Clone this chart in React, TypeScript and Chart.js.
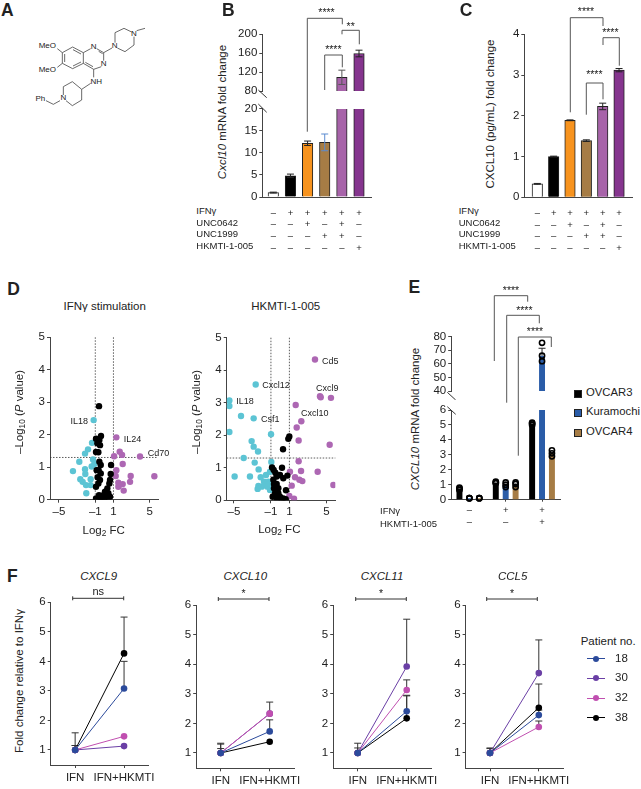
import React, { useEffect, useRef } from 'react';
import { Chart, registerables } from 'chart.js';
Chart.register(...registerables);

const FONT = '"Liberation Sans", Arial, sans-serif';
const INK = '#222222';
const AXIS = '#444444';
const GREY = '#555555';

// ---------- Panel B / C data ----------
const treatmentColors = ['#ffffff', '#000000', '#f7931e', '#a67c45', '#a763a9', '#85358e'];
const treatmentRows = [
  ['–', '+', '+', '+', '+', '+'],
  ['–', '–', '+', '–', '+', '–'],
  ['–', '–', '–', '+', '+', '–'],
  ['–', '–', '–', '–', '–', '+'],
];
const treatmentNames = ['IFNγ', 'UNC0642', 'UNC1999', 'HKMTI-1-005'];
const cxcl10Mrna = [1, 4.8, 12.2, 12.4, 109, 159];
const cxcl10MrnaErr = [0.1, 0.4, 0.5, 1.9, 15, 7];
const cxcl10MrnaErrColors = ['#222222', '#222222', '#222222', '#5b8bd0', '#555555', '#222222'];
const cxcl10Protein = [0.33, 1.0, 1.89, 1.39, 2.23, 3.12];
const cxcl10ProteinErr = [0.01, 0.01, 0.01, 0.02, 0.08, 0.04];

// ---------- Panel D data: [log2FC, -log10 P] ----------
const ifnCyan = [[-1.18,2.45],[-1.36,1.75],[-1.8,1.55],[-2.13,1.42],[-2.76,1.17],[-3.46,0.88],[-2.13,0.94],[-2.1,0.79],[-2.65,0.63],[-1.51,0.63],[-2.39,0.55],[-2.02,0.45],[-1.51,0.45],[-1.99,0.2],[-1.25,1.24],[-1.4,1.02],[-1.1,1.1]];
const ifnBlack = [[-0.59,2.88],[-0.37,1.96],[-0.92,1.88],[-0.55,1.84],[-0.48,1.68],[-0.77,1.74],[-0.92,1.47],[-0.66,1.46],[-0.55,1.17],[-0.4,1.07],[-0.63,0.91],[-0.85,0.91],[-0.4,0.81],[-0.74,0.69],[-0.48,0.61],[-0.66,0.5],[-0.92,0.4],[0.74,1.07],[0.7,0.79],[0.62,0.61],[0.55,0.5],[0.33,0.35],[0.07,0.25],[-0.11,0.14],[-0.48,0.09],[-0.92,0.04],[0.44,0.2],[0.26,0.09],[0,0.04],[0.62,0.09],[-0.29,0.04],[-0.59,0.14]];
const ifnPurple = [[1.32,1.92],[1.07,1.34],[1.69,1.48],[1.95,1.38],[3.93,1.33],[2.02,1.1],[1.32,0.91],[1.25,0.73],[2.9,0.73],[5.51,0.72],[2.83,0.55],[1.54,0.52],[2.02,0.48],[1.54,0.4],[2.13,0.28],[1.65,0.45]];
const hkmtiCyan = [[-2.65,3.56],[-5.5,3.07],[-5.5,2.9],[-4.24,2.59],[-2.87,2.52],[-5.5,2.1],[-0.99,2.03],[-3.09,1.82],[-2.87,1.65],[-2.4,1.5],[-3.95,1.3],[-2.76,1.16],[-0.96,1.18],[-2.33,0.95],[-4.93,0.73],[-3.27,0.73],[-2.11,0.71],[-1.53,0.78],[-1.1,0.88],[-1.75,0.57],[-1.28,0.57],[-2.36,0.44],[-2,0.42],[-1.64,0.47],[-2.44,0.35],[-1.1,0.32],[-1.39,0.42],[-1.17,0.5]];
const hkmtiBlack = [[0.99,1.96],[0.88,1.89],[0.31,1.57],[0.2,1.0],[-0.88,1.01],[-0.7,0.93],[-0.52,0.85],[-0.38,0.73],[-0.02,0.78],[0.34,0.68],[0.78,0.76],[-0.67,0.5],[-0.38,0.5],[-0.67,0.37],[-0.2,0.37],[0.63,0.31],[-0.81,0.11],[-0.45,0.11],[-0.02,0.11],[0.34,0.06],[-0.31,0.03],[0.6,0.03],[0.16,0.03],[-0.56,0.22],[-0.2,0.22],[-0.74,0.63]];
const hkmtiPurple = [[3.77,4.33],[4.31,3.2],[4.39,3.17],[5.5,3.15],[1.68,2.93],[2.29,2.43],[1.79,2.24],[2,1.84],[5.36,1.71],[2,1.2],[1.06,0.88],[2.26,0.9],[4.06,0.88],[1.61,0.71],[2.08,0.63],[2.4,0.59],[5.76,0.47],[1.25,0.45],[0.99,0.13],[1.5,0.05]];

// ---------- Panel E data ----------
const cellLines = ['OVCAR3', 'Kuramochi', 'OVCAR4'];
const cellColors = ['#000000', '#2a5ca8', '#a67c45'];
const eGroups = ['control', 'IFNγ', 'IFNγ + HKMTI-1-005'];
const eRows = [['–', '+', '+'], ['–', '–', '+']];
const eRowNames = ['IFNγ', 'HKMTI-1-005'];
const ovcar3Mean = [0.75, 1.15, 5.1];
const kuramochiMean = [0.1, 1.0, 66];
const ovcar4Mean = [0.1, 1.05, 3.1];
const kuramochiErr = [0, 0, 5.5];
const ovcar3Dots = [[0.65, 0.75, 0.8], [1.1, 1.15, 1.2], [5.0, 5.1, 5.15]];
const kuramochiDots = [[0.1, 0.1, 0.1], [0.85, 1.0, 1.15], [62, 66, 75.5]];
const ovcar4Dots = [[0.1, 0.1, 0.1], [0.85, 1.05, 1.15], [2.9, 3.1, 3.3]];

// ---------- Panel F data (rows: patients 18, 30, 32, 38) ----------
const patients = ['18', '30', '32', '38'];
const patientColors = ['#2b4a9b', '#6a3fa5', '#c04fb0', '#000000'];
const patientOrder = [0, 2, 1, 3];
const fCategories = ['IFN', 'IFN+HKMTI'];
const cxcl9Values = [[1, 3.08], [1, 1.13], [1, 1.46], [1, 4.27]];
const cxcl9Upper = [[1.15, 4.0], [null, null], [1.58, null], [1.15, 5.5]];
const cxcl10Values = [[1, 1.73], [1, 2.33], [1, 2.33], [1, 1.38]];
const cxcl10Upper = [[1.15, 2.12], [null, null], [1.33, 2.72], [1.3, null]];
const cxcl11Values = [[1, 2.41], [1, 3.92], [1, 3.13], [1, 2.17]];
const cxcl11Upper = [[1.17, 2.93], [1.33, 5.52], [null, 3.47], [null, 2.95]];
const ccl5Values = [[1, 2.28], [1, 3.7], [1, 1.88], [1, 2.53]];
const ccl5Upper = [[1.17, 2.45], [1.15, 4.82], [null, 2.08], [null, 3.33]];

// ---------- helpers ----------
const tickFont = { family: FONT, size: 11.5 };
const dashify = (v: any) => String(v).replace('-', '–');

const yAxis = (min: number, max: number, ticks: number[]) => ({
  type: 'linear', min, max,
  afterBuildTicks: (s: any) => { s.ticks = ticks.map((value) => ({ value })); },
  border: { color: AXIS, width: 1 },
  grid: { drawOnChartArea: false, color: AXIS, tickLength: 3 },
  ticks: { font: tickFont, color: INK, padding: 2, autoSkip: false, callback: dashify },
});

const rowTickFont = { family: FONT, size: 9.5, lineHeight: 11.8 / 9.5 };

const linearBarX = (min: number, max: number, hidden: boolean, rows: string[][]) => ({
  type: 'linear', min, max, offset: false, display: !hidden,
  afterBuildTicks: (s: any) => { s.ticks = rows[0].map((_, i) => ({ value: i + 1 })); },
  border: { color: AXIS, width: 1 },
  grid: { display: false, offset: false },
  ticks: {
    font: rowTickFont, color: INK, padding: 2, autoSkip: false, maxRotation: 0,
    callback: (v: number) => rows.map((r) => r[Math.round(v) - 1]),
  },
});

function lines(ctx: any, pts: number[][], color = GREY, width = 1) {
  ctx.save();
  ctx.strokeStyle = color;
  ctx.lineWidth = width;
  ctx.beginPath();
  pts.forEach(([x, y], i) => (i ? ctx.lineTo(x, y) : ctx.moveTo(x, y)));
  ctx.stroke();
  ctx.restore();
}

function starText(ctx: any, text: string, x: number, y: number, size = 10.5) {
  ctx.save();
  ctx.font = `${size}px ${FONT}`;
  ctx.fillStyle = INK;
  ctx.textAlign = 'center';
  ctx.textBaseline = 'middle';
  ctx.fillText(text, x, y);
  ctx.restore();
}

type Bracket = { x0: number; x1: number; top: number; b0: number; b1: number; label: string; lx: number; ly: number };
function drawBracket(ctx: any, b: Bracket) {
  lines(ctx, [[b.x0, b.b0], [b.x0, b.top], [b.x1, b.top], [b.x1, b.b1]]);
  starText(ctx, b.label, b.lx, b.ly);
}

function clipArea(chart: any, fn: () => void) {
  const { ctx, chartArea: a } = chart;
  ctx.save();
  ctx.beginPath();
  ctx.rect(a.left - 8, a.top - 1, a.right - a.left + 16, a.bottom - a.top + 2);
  ctx.clip();
  fn();
  ctx.restore();
}

function barErrors(chart: any, datasetIndex: number, means: number[], errs: number[], colors: string[] | string, both = true) {
  const y = chart.scales.y;
  const meta = chart.getDatasetMeta(datasetIndex);
  clipArea(chart, () => {
    means.forEach((m, i) => {
      if (!errs[i] || m + errs[i] < y.min || m - errs[i] > y.max) return;
      const x = meta.data[i].x;
      const c = typeof colors === 'string' ? colors : colors[i];
      const hi = y.getPixelForValue(m + errs[i]);
      const lo = y.getPixelForValue(both ? m - errs[i] : m);
      lines(chart.ctx, [[x, lo], [x, hi]], c);
      lines(chart.ctx, [[x - 3.5, hi], [x + 3.5, hi]], c);
      if (both) lines(chart.ctx, [[x - 3.5, lo], [x + 3.5, lo]], c);
    });
  });
}

function replicateDots(chart: any, datasetIndex: number, dots: number[][]) {
  const y = chart.scales.y;
  const meta = chart.getDatasetMeta(datasetIndex);
  const { ctx, chartArea: a } = chart;
  ctx.save();
  ctx.beginPath();
  ctx.rect(a.left, a.top - 6, a.right - a.left, a.bottom - a.top + 10);
  ctx.clip();
  dots.forEach((group, i) => group.forEach((v) => {
    if (v > y.max || v < y.min) return;
    ctx.beginPath();
    ctx.arc(meta.data[i].x, y.getPixelForValue(v), 2.6, 0, Math.PI * 2);
    ctx.strokeStyle = '#000';
    ctx.lineWidth = 1.6;
    ctx.stroke();
  }));
  ctx.restore();
}

type Rect = { left: number; top: number; right: number; bottom: number };
type Spec = { box: Rect; plot: Rect; config: any; under?: (c: any) => void; over?: (c: any) => void };

const barData = (values: number[]) => values.map((y, i) => ({ x: i + 1, y }));
const barDataset = (values: number[]) => ({
  data: barData(values), backgroundColor: treatmentColors, borderColor: '#222222', borderWidth: 1, barThickness: 10.5,
});

const bBrackets: Bracket[] = [
  { x0: 307.3, x1: 342.3, top: 18.3, b0: 131.7, b1: 24.3, label: '****', lx: 326.5, ly: 13 },
  { x0: 342, x1: 359.3, top: 30.3, b0: 34.3, b1: 44.3, label: '**', lx: 350.7, ly: 27.5 },
  { x0: 324.7, x1: 342.3, top: 55, b0: 90, b1: 67.3, label: '****', lx: 333.3, ly: 50 },
];
const cBrackets: Bracket[] = [
  { x0: 570.3, x1: 603, top: 17.7, b0: 112.3, b1: 26, label: '****', lx: 586, ly: 12 },
  { x0: 603, x1: 619.3, top: 37.7, b0: 45, b1: 65.7, label: '****', lx: 610.3, ly: 33 },
  { x0: 586.3, x1: 603, top: 83, b0: 114.7, b1: 99.3, label: '****', lx: 594.3, ly: 75 },
];
const eBrackets: Bracket[] = [
  { x0: 494.3, x1: 527.7, top: 295.7, b0: 361, b1: 301.7, label: '****', lx: 511, ly: 291 },
  { x0: 506.7, x1: 539.3, top: 315.3, b0: 402.7, b1: 323.3, label: '****', lx: 524.3, ly: 311 },
  { x0: 518.3, x1: 551.3, top: 337, b0: 455.7, b1: 347, label: '****', lx: 535, ly: 332 },
];

const bLowerPlot = { left: 262.3, top: 108.3, right: 371, bottom: 197 };
const bUpperPlot = { left: 262.3, top: 34, right: 371, bottom: 94 };
const bXMin = 0.358;
const bXMax = 6.7;
const cPlot = { left: 524.3, top: 34.3, right: 632.3, bottom: 197.3 };

const volcanoX = (min: number, max: number) => ({
  type: 'linear', min, max,
  afterBuildTicks: (s: any) => { s.ticks = [-5, -1, 1, 5].map((value) => ({ value })); },
  border: { color: AXIS, width: 1 },
  grid: { drawOnChartArea: false, color: AXIS, tickLength: 3 },
  ticks: { font: tickFont, color: INK, padding: 2, autoSkip: false, maxRotation: 0, callback: dashify },
});
const toPoints = (rows: number[][]) => rows.map(([x, y]) => ({ x, y }));
const volcanoSet = (rows: number[][], color: string) => ({
  data: toPoints(rows), backgroundColor: color, borderColor: color, pointRadius: 3.2, borderWidth: 0,
});
const thresholds = (chart: any) => {
  const { ctx, scales: { x, y }, chartArea: a } = chart;
  ctx.save();
  ctx.setLineDash([1.5, 1.5]);
  ctx.strokeStyle = '#333';
  ctx.lineWidth = 0.8;
  [-1, 1].forEach((v) => {
    ctx.beginPath();
    ctx.moveTo(x.getPixelForValue(v), a.top);
    ctx.lineTo(x.getPixelForValue(v), a.bottom);
    ctx.stroke();
  });
  ctx.beginPath();
  ctx.moveTo(a.left, y.getPixelForValue(1.3));
  ctx.lineTo(a.right, y.getPixelForValue(1.3));
  ctx.stroke();
  ctx.restore();
};
const volcano = (box: Rect, plot: Rect, xMin: number, xMax: number, c: number[][], b: number[][], p: number[][]): Spec => ({
  box, plot, under: thresholds,
  config: {
    type: 'scatter',
    data: { datasets: [volcanoSet(b, '#000000'), volcanoSet(p, '#ad67b3'), volcanoSet(c, '#5cc4d4')] },
    options: { scales: { x: volcanoX(xMin, xMax), y: yAxis(0, 5, [0, 1, 2, 3, 4, 5]) } },
  },
});

const eDatasets = () => [ovcar3Mean, kuramochiMean, ovcar4Mean].map((data, i) => ({
  label: cellLines[i], data, backgroundColor: cellColors[i], borderWidth: 0,
  categoryPercentage: 0.818, barPercentage: 0.6,
}));
const eDots = (chart: any) => [ovcar3Dots, kuramochiDots, ovcar4Dots].forEach((d, i) => replicateDots(chart, i, d));
const eCategoryX = (hidden: boolean) => ({
  type: 'category', display: !hidden,
  border: { color: AXIS, width: 1 },
  grid: { drawOnChartArea: false, color: AXIS, tickLength: 2, offset: false },
  ticks: {
    font: rowTickFont, color: INK, padding: 3, autoSkip: false, maxRotation: 0,
    callback: (_: any, i: number) => eRows.map((r) => r[i]),
  },
});
const eLowerPlot = { left: 451.2, top: 410, right: 560.2, bottom: 499.7 };
const eUpperPlot = { left: 451.2, top: 336.7, right: 560.2, bottom: 395.7 };

const trend = (box: Rect, plot: Rect, yMin: number, values: number[][], upper: (number | null)[][], bracket: number[], label: string): Spec => ({
  box, plot,
  under: (chart: any) => {
    const { ctx, scales: { x, y } } = chart;
    upper.forEach((row, r) => row.forEach((v, i) => {
      if (v == null) return;
      const px = x.getPixelForValue(i);
      const hi = y.getPixelForValue(v);
      lines(ctx, [[px, y.getPixelForValue(values[r][i])], [px, hi]], '#333');
      lines(ctx, [[px - 3.5, hi], [px + 3.5, hi]], '#333');
    }));
  },
  over: (chart: any) => {
    const ctx = chart.ctx;
    const [x0, x1, yy] = bracket;
    lines(ctx, [[x0, yy], [x1, yy]], '#333');
    lines(ctx, [[x0, yy - 2], [x0, yy + 2]], '#333');
    lines(ctx, [[x1, yy - 2], [x1, yy + 2]], '#333');
    starText(ctx, label, (x0 + x1) / 2, yy - (label === 'ns' ? 6.5 : 4.5), label === 'ns' ? 11 : 10.5);
  },
  config: {
    type: 'line',
    data: {
      labels: fCategories,
      datasets: values.map((data, i) => ({
        label: patients[i], data, order: patientOrder[i], borderColor: patientColors[i], backgroundColor: patientColors[i],
        borderWidth: 1, pointRadius: 3.3, pointBorderWidth: 0, tension: 0,
      })),
    },
    options: {
      scales: {
        x: {
          type: 'category', offset: true,
          border: { color: AXIS, width: 1 },
          grid: { drawOnChartArea: false, color: AXIS, tickLength: 3, offset: false },
          ticks: { font: tickFont, color: INK, padding: 3, autoSkip: false, maxRotation: 0 },
        },
        y: yAxis(yMin, 6, [1, 2, 3, 4, 5, 6]),
      },
    },
  },
});

const specs: Spec[] = [
  {
    box: { left: 232, top: 0, right: 385, bottom: 100 }, plot: bUpperPlot,
    config: {
      type: 'bar',
      data: { datasets: [barDataset(cxcl10Mrna)] },
      options: { scales: { x: linearBarX(bXMin, bXMax, true, treatmentRows), y: yAxis(80, 200, [80, 120, 160, 200]) } },
    },
    over: (chart) => {
      barErrors(chart, 0, cxcl10Mrna, cxcl10MrnaErr, cxcl10MrnaErrColors);
      bBrackets.forEach((b) => drawBracket(chart.ctx, b));
      lines(chart.ctx, [[258.3, 90], [266.7, 97.7]], '#333');
    },
  },
  {
    box: { left: 232, top: 100, right: 385, bottom: 256 }, plot: bLowerPlot,
    config: {
      type: 'bar',
      data: { datasets: [barDataset(cxcl10Mrna)] },
      options: { scales: { x: linearBarX(bXMin, bXMax, false, treatmentRows), y: yAxis(0, 20, [0, 5, 10, 15, 20]) } },
    },
    over: (chart) => {
      barErrors(chart, 0, cxcl10Mrna, cxcl10MrnaErr, cxcl10MrnaErrColors);
      lines(chart.ctx, [[258.3, 104], [266.7, 112.3]], '#333');
      lines(chart.ctx, [[307.3, 131.7], [307.3, 100]]);
    },
  },
  {
    box: { left: 500, top: 0, right: 641, bottom: 256 }, plot: cPlot,
    config: {
      type: 'bar',
      data: { datasets: [barDataset(cxcl10Protein)] },
      options: { scales: { x: linearBarX(0.205, 6.81, false, treatmentRows), y: yAxis(0, 4, [0, 1, 2, 3, 4]) } },
    },
    over: (chart) => {
      barErrors(chart, 0, cxcl10Protein, cxcl10ProteinErr, '#222222');
      cBrackets.forEach((b) => drawBracket(chart.ctx, b));
    },
  },
  volcano({ left: 28, top: 325, right: 170, bottom: 525 }, { left: 50, top: 337.3, right: 158, bottom: 499.7 }, -5.99, 5.91, ifnCyan, ifnBlack, ifnPurple),
  volcano({ left: 205, top: 325, right: 345, bottom: 525 }, { left: 226.7, top: 337.7, right: 335.3, bottom: 500.3 }, -5.79, 5.97, hkmtiCyan, hkmtiBlack, hkmtiPurple),
  {
    box: { left: 425, top: 285, right: 570, bottom: 400 }, plot: eUpperPlot,
    config: {
      type: 'bar',
      data: { labels: eGroups, datasets: eDatasets() },
      options: { scales: { x: eCategoryX(true), y: yAxis(40, 80, [40, 50, 60, 70, 80]) } },
    },
    over: (chart) => {
      barErrors(chart, 1, kuramochiMean, kuramochiErr, '#222222', false);
      eDots(chart);
      eBrackets.forEach((b) => drawBracket(chart.ctx, b));
      lines(chart.ctx, [[447.3, 392.3], [455.7, 400]], '#333');
    },
  },
  {
    box: { left: 425, top: 400, right: 570, bottom: 532 }, plot: eLowerPlot,
    config: {
      type: 'bar',
      data: { labels: eGroups, datasets: eDatasets() },
      options: { scales: { x: eCategoryX(false), y: yAxis(0, 6, [0, 1, 2, 3, 4, 5, 6]) } },
    },
    over: (chart) => {
      eDots(chart);
      lines(chart.ctx, [[447.3, 406.7], [455.7, 414.3]], '#333');
      lines(chart.ctx, [[506.7, 400], [506.7, 402.7]]);
      lines(chart.ctx, [[518.3, 400], [518.3, 455.7]]);
    },
  },
  trend({ left: 30, top: 588, right: 170, bottom: 789 }, { left: 50.7, top: 602.3, right: 148.5, bottom: 765 }, 0.49, cxcl9Values, cxcl9Upper, [72.7, 123.7, 598.3], 'ns'),
  trend({ left: 176, top: 588, right: 312, bottom: 789 }, { left: 196.2, top: 605, right: 294.2, bottom: 768.3 }, 0.483, cxcl10Values, cxcl10Upper, [218.3, 269, 599], '*'),
  trend({ left: 313, top: 588, right: 452, bottom: 789 }, { left: 333.2, top: 605, right: 431.2, bottom: 768.3 }, 0.483, cxcl11Values, cxcl11Upper, [355.7, 406.3, 599], '*'),
  trend({ left: 445, top: 588, right: 580, bottom: 789 }, { left: 465.6, top: 605, right: 563.2, bottom: 768.3 }, 0.483, ccl5Values, ccl5Upper, [486.7, 537.3, 599], '*'),
];

function PanelCanvas({ spec }: { spec: Spec }) {
  const ref = useRef<HTMLCanvasElement>(null);
  useEffect(() => {
    const { box, plot, config, under, over } = spec;
    const scales = config.options.scales;
    const xHidden = scales.x.display === false;
    scales.y.afterFit = (s: any) => { s.width = plot.left - box.left; };
    if (!xHidden) scales.x.afterFit = (s: any) => { s.height = box.bottom - plot.bottom; };
    const shift = (chart: any, fn?: (c: any) => void) => {
      if (!fn) return;
      chart.ctx.save();
      chart.ctx.translate(-box.left, -box.top);
      fn(new Proxy(chart, {
        get(t, k) {
          if (k === 'chartArea') {
            const a = t.chartArea;
            return { left: a.left + box.left, right: a.right + box.left, top: a.top + box.top, bottom: a.bottom + box.top };
          }
          if (k === 'scales') {
            const wrap = (s: any) => ({
              min: s.min, max: s.max,
              getPixelForValue: (v: number) => s.getPixelForValue(v) + (s.axis === 'x' ? box.left : box.top),
            });
            return { x: wrap(t.scales.x), y: wrap(t.scales.y) };
          }
          if (k === 'getDatasetMeta') {
            return (i: number) => ({ data: t.getDatasetMeta(i).data.map((e: any) => ({ x: e.x + box.left })) });
          }
          const v = (t as any)[k];
          return typeof v === 'function' ? v.bind(t) : v;
        },
      }));
      chart.ctx.restore();
    };
    const chart = new Chart(ref.current as any, {
      ...config,
      options: {
        ...config.options,
        responsive: false,
        animation: false,
        devicePixelRatio: 1,
        events: [],
        layout: {
          autoPadding: false,
          padding: {
            left: 0,
            top: plot.top - box.top,
            right: box.right - plot.right,
            bottom: xHidden ? box.bottom - plot.bottom : 0,
          },
        },
        plugins: { legend: { display: false }, tooltip: { enabled: false } },
      },
      plugins: [{
        id: 'panelMarks',
        beforeDatasetsDraw: (c: any) => shift(c, under),
        afterDatasetsDraw: (c: any) => shift(c, over),
      }],
    });
    return () => chart.destroy();
  }, [spec]);
  const { box } = spec;
  return (
    <canvas
      ref={ref}
      width={box.right - box.left}
      height={box.bottom - box.top}
      style={{ position: 'absolute', left: box.left, top: box.top, width: box.right - box.left, height: box.bottom - box.top, display: 'block' }}
    />
  );
}

type LabelProps = {
  x: number; y: number; anchor?: 'l' | 'c' | 'r'; size?: number; rotate?: boolean; bold?: boolean; italic?: boolean; children: React.ReactNode;
};
function Label({ x, y, anchor = 'c', size = 11.5, rotate, bold, italic, children }: LabelProps) {
  const tx = anchor === 'l' ? '0' : anchor === 'r' ? '-100%' : '-50%';
  return (
    <span style={{
      position: 'absolute', left: x, top: y, transform: `translate(${tx},-50%)${rotate ? ' rotate(-90deg)' : ''}`,
      fontFamily: FONT, fontSize: size, lineHeight: 1, whiteSpace: 'nowrap', color: INK,
      fontWeight: bold ? 700 : 400, fontStyle: italic ? 'italic' : 'normal',
    }}>{children}</span>
  );
}

const subStyle: React.CSSProperties = { fontSize: '0.72em', verticalAlign: '-0.25em', lineHeight: 0 };

const moleculeBonds = [
  [187,158,218,141],[218,141,250,158],[250,158,250,190],[250,190,218,206],[218,206,187,190],[187,190,187,158],
  [219,149,243,162],[243,186,219,198],[194,186,194,162],
  [250,158,272,146],[290,146,311,158],[296,154,308,161],[311,158,311,182],[304,200,281,208],[281,208,250,190],[279,200,256,187],
  [187,158,172,146],[187,190,172,202],
  [311,158,336,144],[345,128,345,98],[345,98,372,85],[372,85,395,96],[410,92,435,85],[402,110,402,135],[402,135,375,155],[375,155,352,144],
  [281,208,281,232],[272,250,245,268],[245,268,217,245],[217,245,190,260],[190,260,190,285],[198,302,217,317],[217,317,245,300],[245,300,245,268],
  [180,302,160,313],[160,313,138,302],
];

function Molecule() {
  const t = (x: number, y: number, s: string) => (
    <text x={x / 3} y={y / 3} fontFamily={FONT} fontSize={8} fill={INK} textAnchor="middle" dominantBaseline="middle">{s}</text>
  );
  return (
    <svg width={160} height={115} style={{ position: 'absolute', left: 0, top: 0 }}>
      {moleculeBonds.map(([a, b, c, d], i) => (
        <line key={i} x1={a / 3} y1={b / 3} x2={c / 3} y2={d / 3} stroke="#444" strokeWidth={0.8} />
      ))}
      {t(142, 139, 'MeO')}{t(142, 210, 'MeO')}{t(281, 140, 'N')}{t(311, 193, 'N')}{t(344, 139, 'N')}{t(402, 101, 'N')}
      {t(289, 245, 'NH')}{t(190, 295, 'N')}{t(121, 298, 'Ph')}
    </svg>
  );
}

const rowYs = [210.7, 222.7, 234.3, 246];
const geneTitles: [string, number][] = [['CXCL9', 98.7], ['CXCL10', 245.3], ['CXCL11', 382], ['CCL5', 512.7]];
const legendYs = [658.7, 678.3, 698, 717.7];
const eLegendYs = [393.3, 412.3, 432];
const d1Tags: [string, number, number, 'l' | 'r'][] = [['IL18', 88, 421.3, 'r'], ['IL24', 123.7, 438.7, 'l'], ['Cd70', 147.7, 452.7, 'l']];
const d2Tags: [string, number, number, 'l' | 'r'][] = [['Cxcl12', 262.3, 385.3, 'l'], ['IL18', 236.3, 401, 'l'], ['Csf1', 261, 419, 'l'], ['Cd5', 322, 361, 'l'], ['Cxcl9', 316, 388.3, 'l'], ['Cxcl10', 301, 412.7, 'l']];

export default function App() {
  useEffect(() => { document.body.style.margin = '0'; }, []);
  return (
    <div style={{ position: 'absolute', left: 0, top: 0, width: 641, height: 789, background: '#fff', overflow: 'hidden' }}>
      <Molecule />
      {specs.map((s, i) => <PanelCanvas key={i} spec={s} />)}

      <Label x={7.3} y={11} size={17.5} bold>A</Label>
      <Label x={228.3} y={10.7} size={17.5} bold>B</Label>
      <Label x={466} y={10.7} size={17.5} bold>C</Label>
      <Label x={13.7} y={290} size={17.5} bold>D</Label>
      <Label x={414.3} y={288.3} size={17.5} bold>E</Label>
      <Label x={12.3} y={577.3} size={17.5} bold>F</Label>

      <Label x={223.3} y={112.3} rotate><i>Cxcl10</i> mRNA fold change</Label>
      <Label x={491} y={113.7} rotate>CXCL10 (pg/mL) fold change</Label>
      {treatmentNames.map((n, i) => <Label key={n} x={196.3} y={rowYs[i]} anchor="l" size={9.5}>{n}</Label>)}
      {treatmentNames.map((n, i) => <Label key={n} x={458.7} y={rowYs[i]} anchor="l" size={9.5}>{n}</Label>)}

      <Label x={104.7} y={306.7}>IFNγ stimulation</Label>
      <Label x={285.7} y={306.7}>HKMTI-1-005</Label>
      <Label x={20} y={411.7} rotate>–Log<span style={subStyle}>10</span> (<i>P</i> value)</Label>
      <Label x={197.3} y={411.7} rotate>–Log<span style={subStyle}>10</span> (<i>P</i> value)</Label>
      <Label x={103.7} y={530.7}>Log<span style={subStyle}>2</span> FC</Label>
      <Label x={279.3} y={530}>Log<span style={subStyle}>2</span> FC</Label>
      {d1Tags.map(([t, x, y, a]) => <Label key={t} x={x} y={y} anchor={a} size={9}>{t}</Label>)}
      {d2Tags.map(([t, x, y, a]) => <Label key={t} x={x} y={y} anchor={a} size={9}>{t}</Label>)}

      <Label x={416} y={418.7} rotate><i>CXCL10</i> mRNA fold change</Label>
      {eRowNames.map((n, i) => <Label key={n} x={380} y={[511.3, 523.7][i]} anchor="l" size={9.5}>{n}</Label>)}
      {cellLines.map((n, i) => (
        <React.Fragment key={n}>
          <div style={{ position: 'absolute', left: 573.5, top: eLegendYs[i] - 3.5, width: 6, height: 6, background: cellColors[i], border: '0.5px solid #222' }} />
          <Label x={586} y={eLegendYs[i]} anchor="l" size={11.3}>{n}</Label>
        </React.Fragment>
      ))}

      <Label x={20} y={681.3} rotate>Fold change relative to IFNγ</Label>
      {geneTitles.map(([t, x]) => <Label key={t} x={x} y={577.3} italic>{t}</Label>)}
      <Label x={580.7} y={641.7} anchor="l">Patient no.</Label>
      {patients.map((p, i) => (
        <React.Fragment key={p}>
          <div style={{ position: 'absolute', left: 587.3, top: legendYs[i] - 0.5, width: 18, height: 1, background: patientColors[i] }} />
          <div style={{ position: 'absolute', left: 592.8, top: legendYs[i] - 3.2, width: 6.4, height: 6.4, borderRadius: '50%', background: patientColors[i] }} />
          <Label x={615} y={legendYs[i]} anchor="l">{p}</Label>
        </React.Fragment>
      ))}
    </div>
  );
}
